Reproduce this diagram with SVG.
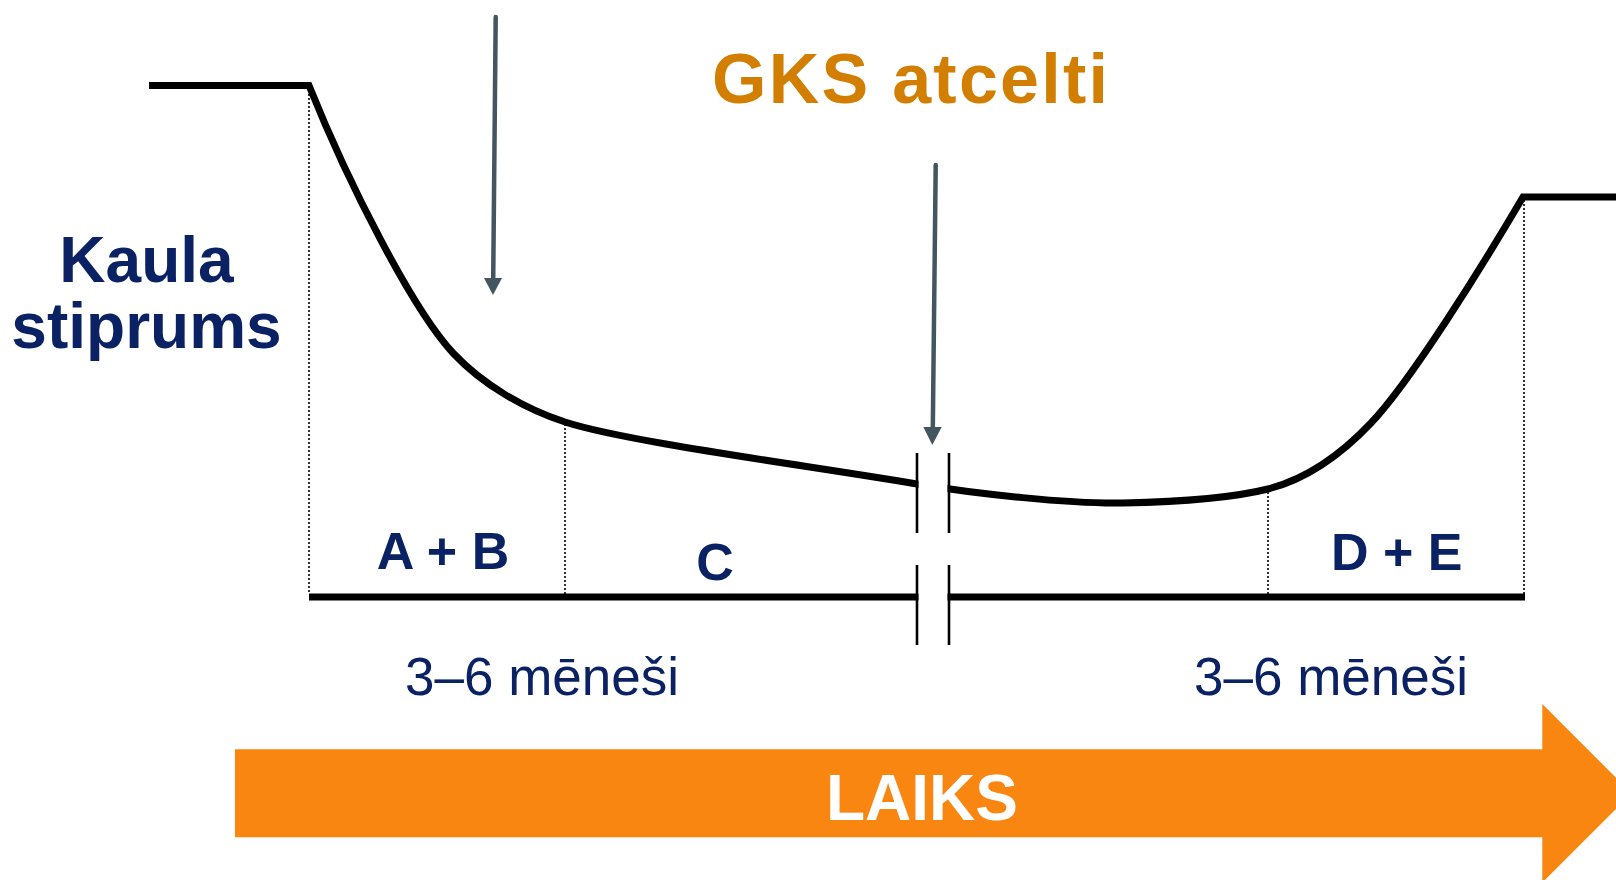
<svg xmlns="http://www.w3.org/2000/svg" width="1616" height="880" viewBox="0 0 1616 880">
<style>
.curve{fill:none;stroke:#000;stroke-width:7;stroke-linejoin:miter}
.dot{fill:none;stroke:#000;stroke-width:1.6;stroke-dasharray:2 2}
.brk{stroke:#000;stroke-width:2.6}
.ptr{stroke:#435660;stroke-width:4.5;stroke-linecap:round;fill:none}
.ptrh{fill:#435660}
.lbl{font-family:"Liberation Sans",Arial,sans-serif;font-weight:bold;fill:#0A2263;text-anchor:middle}
.dur{font-family:"Liberation Sans",Arial,sans-serif;fill:#0A2263;text-anchor:middle;font-size:53px}
</style>
<rect width="1616" height="880" fill="#fff"/>
<g id="guides">
<path class="dot" d="M309,90 V594 M565,424 V594 M1268,492 V594 M1524,200 V594"/>
</g>
<g id="curve">
<path class="curve" d="M149,85.5 H309 C349,185 413,310 453,353 C483,385 525,409 565,422 C625,441.5 797,464 917,484 C977,494 1070,504 1123,503 C1173,502 1228,499 1268,489 C1303,480 1336,460 1371,423 C1411,381 1483,265 1523,197 H1616"/>
<path class="curve" d="M309,597 H1525"/>
</g>
<g id="break">
<rect x="918.5" y="440" width="29" height="212" fill="#fff"/>
<path class="brk" d="M917,453 V533 M949,453 V533 M917,565 V645 M949,565 V645"/>
</g>
<g id="connectors">
<path class="ptr" d="M495.7,17 L493.2,280"/>
<polygon class="ptrh" points="484,278 502,278 493,295"/>
<path class="ptr" d="M935.7,165 L932.8,430"/>
<polygon class="ptrh" points="923.3,427 941.7,427 932.3,445"/>
</g>
<g id="y-label">
<text class="lbl" x="146.5" y="282" font-size="64">Kaula</text>
<text class="lbl" x="146.5" y="348" font-size="64">stiprums</text>
</g>
<g id="gks">
<text x="910" y="102.5" font-family="Liberation Sans,Arial,sans-serif" font-weight="bold" font-size="70" fill="#D27E00" text-anchor="middle" textLength="396" lengthAdjust="spacing">GKS atcelti</text>
</g>
<g id="phase-ab"><text class="lbl" x="443" y="569" font-size="52">A + B</text></g>
<g id="phase-c"><text class="lbl" x="715" y="579.5" font-size="52">C</text></g>
<g id="phase-de"><text class="lbl" x="1396.7" y="570" font-size="52">D + E</text></g>
<g id="dur1"><text class="dur" x="542" y="695">3–6 mēneši</text></g>
<g id="dur2"><text class="dur" x="1331" y="694.5">3–6 mēneši</text></g>
<g id="time-arrow">
<polygon points="235,749.3 1542.3,749.3 1542.3,704 1631.6,793.3 1542.3,882.6 1542.3,837.3 235,837.3" fill="#FA8612"/>
<text x="922" y="820" font-family="Liberation Sans,Arial,sans-serif" font-weight="bold" font-size="64" fill="#fff" text-anchor="middle">LAIKS</text>
</g>
</svg>
